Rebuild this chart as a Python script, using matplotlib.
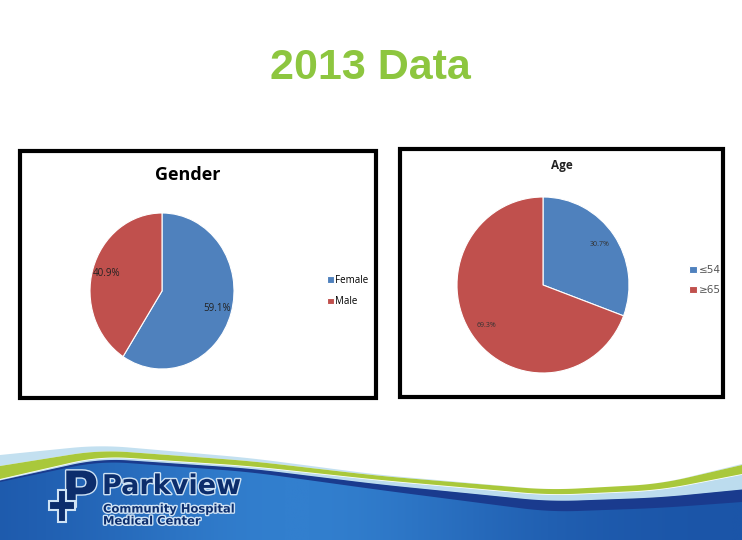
import numpy as np
import matplotlib
matplotlib.use("Agg")
import matplotlib.pyplot as plt
from matplotlib.patches import Rectangle, Polygon
from matplotlib.colors import LinearSegmentedColormap
import matplotlib.patheffects as pe

# data
gender_labels = ["Female", "Male"]
gender_values = [59.1, 40.9]
age_labels = ["\u226454", "\u226565"]
age_values = [30.7, 69.3]
pie_colors = ["#4F81BD", "#C0504D"]

W, H = 742, 540
fig = plt.figure(figsize=(W / 100, H / 100), dpi=100)
fig.patch.set_facecolor("white")

# background / decoration axes in pixel coordinates
bg = fig.add_axes([0, 0, 1, 1])
bg.set_xlim(0, W)
bg.set_ylim(H, 0)
bg.axis("off")


def smooth_curve(ys, n=400):
    xs = [0, 100, 250, 380, 550, 660, 742]
    x = np.linspace(0, W, n)
    y = np.interp(x, xs, ys)
    k = np.ones(31) / 31
    y = np.convolve(np.pad(y, 15, mode="reflect", reflect_type="odd"), k, mode="valid")
    return x, y


def band(y1, y2, color, z=2):
    bg.add_patch(Polygon(np.column_stack([np.r_[x, x[::-1]], np.r_[y1, y2[::-1]]]),
                         closed=True, color=color, lw=0, zorder=z))


# bottom wave banner
x, top_lb = smooth_curve([455, 445, 458, 475, 490, 484, 464])
_, g_top = smooth_curve([466, 450, 461, 476, 490, 484, 465])
_, g_bot = smooth_curve([479, 456, 466, 480, 495, 490, 474])
_, lb_bot = smooth_curve([481, 459, 469, 485, 502, 498, 490])
_, navy_bot = smooth_curve([482, 461, 472, 490, 512, 508, 502])

band(top_lb, g_top, "#c3e0f0")
band(g_top, g_bot, "#a9c83b")
band(g_bot + 0.8, lb_bot, "#bcdcee")

grad = np.linspace(0, 1, 256)
grad = (np.exp(-((grad - 0.4) / 0.3) ** 2))[None, :]
bcmap = LinearSegmentedColormap.from_list("b", ["#1b55a8", "#327fce"])
img = bg.imshow(grad, cmap=bcmap, extent=[0, W, H, 440], aspect="auto", zorder=1)
clip = Polygon(np.column_stack([np.r_[x, W, 0], np.r_[lb_bot - 0.5, H, H]]), closed=True,
               transform=bg.transData, facecolor="none", lw=0)
bg.add_patch(clip)
img.set_clip_path(clip)
band(lb_bot - 0.5, navy_bot, "#1a3b8e", z=3)
bg.set_xlim(0, W)
bg.set_ylim(H, 0)

# logo
navy = "#0c2d6c"
outline = [pe.withStroke(linewidth=2.0, foreground="#cfe3f5")]
bg.text(80, 493, "P", fontsize=36, fontweight="bold", color=navy,
        ha="center", va="center", zorder=5, path_effects=outline, family="DejaVu Sans")
cross_x = np.array([-4, 4, 4, 13, 13, 4, 4, -4, -4, -13, -13, -4]) + 62
cross_y = np.array([-16, -16, -5, -5, 4, 4, 16, 16, 4, 4, -5, -5]) + 506
bg.add_patch(Polygon(np.column_stack([cross_x, cross_y]), closed=True, fc=navy,
                     ec="#cfe3f5", lw=1.5, zorder=6))
bg.text(102, 487, "Parkview", fontsize=19.5, fontweight="bold", color=navy,
        ha="left", va="center", zorder=5, path_effects=outline, family="DejaVu Sans")
bg.text(103, 509, "Community Hospital", fontsize=8.3, fontweight="bold", color=navy,
        ha="left", va="center", zorder=5, path_effects=outline, family="DejaVu Sans")
bg.text(103, 521, "Medical Center", fontsize=8.3, fontweight="bold", color=navy,
        ha="left", va="center", zorder=5, path_effects=outline, family="DejaVu Sans")

# title
bg.text(370, 68, "2013 Data", fontsize=31, fontweight="bold", color="#8DC63F",
        ha="center", va="center", family="Liberation Sans")

# chart frames
bg.add_patch(Rectangle((20, 151), 356, 247, fill=False, ec="black", lw=3))
bg.add_patch(Rectangle((400, 149), 323, 248, fill=False, ec="black", lw=3))
bg.text(188, 175, "Gender", fontsize=13, fontweight="bold", color="black",
        ha="center", va="center", family="Open Sans")
bg.text(562, 166, "Age", fontsize=8.5, fontweight="bold", color="#222222",
        ha="center", va="center", family="Open Sans")


def pie_axes(cxp, cyp, rx, ry):
    return fig.add_axes([(cxp - rx) / W, 1 - (cyp + ry) / H, 2 * rx / W, 2 * ry / H])


# gender pie
ax1 = pie_axes(162, 291, 72, 78)
w1, t1, a1 = ax1.pie(gender_values, colors=pie_colors, startangle=90, counterclock=False,
                     autopct="%1.1f%%", pctdistance=0.8,
                     wedgeprops=dict(edgecolor="white", linewidth=0.8),
                     textprops=dict(fontsize=7, color="#222222", family="Open Sans"))
ax1.set_aspect("auto")
ax1.set_xlim(-1, 1)
ax1.set_ylim(-1, 1)
fig.legend(w1, gender_labels, loc="center left", bbox_to_anchor=(318 / W, 1 - 291 / H),
           frameon=False, handlelength=0.7, handleheight=0.7,
           handletextpad=0.2, labelspacing=1.1, prop=dict(family="Open Sans", size=7))

# age pie
ax2 = pie_axes(543, 285, 86, 88)
w2, t2, a2 = ax2.pie(age_values, colors=pie_colors, startangle=90, counterclock=False,
                     autopct="%1.1f%%", pctdistance=0.8,
                     wedgeprops=dict(edgecolor="white", linewidth=0.8),
                     textprops=dict(fontsize=5, color="#333333", family="Open Sans"))
ax2.set_aspect("auto")
ax2.set_xlim(-1, 1)
ax2.set_ylim(-1, 1)
fig.legend(w2, age_labels, loc="center left", bbox_to_anchor=(680 / W, 1 - 280 / H),
           frameon=False, handlelength=0.7, handleheight=0.7,
           handletextpad=0.2, labelspacing=1.0,
           prop=dict(family="DejaVu Sans", size=7.5), labelcolor="#555555")

fig.savefig("out.png", dpi=100)
